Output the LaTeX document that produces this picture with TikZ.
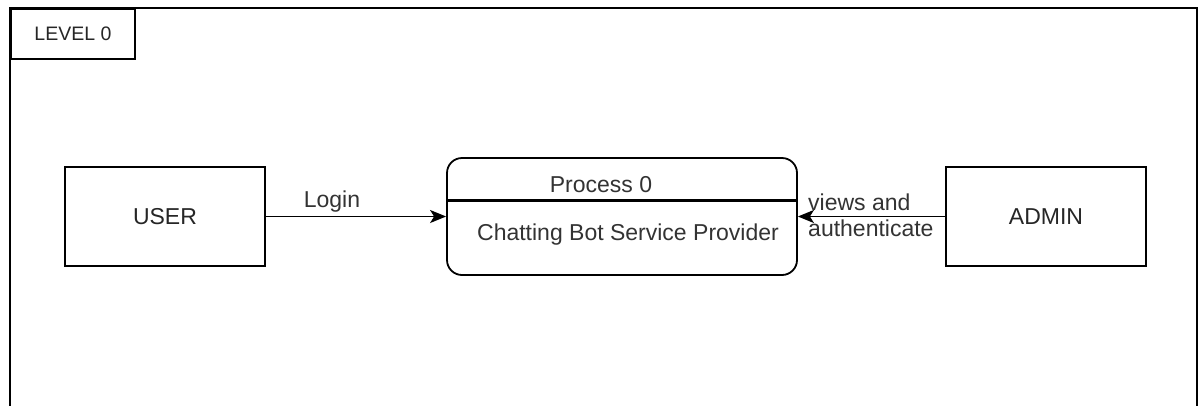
\documentclass[tikz,border=0pt]{standalone}
\usepackage{fontspec}
\setmainfont{Liberation Sans}
\usetikzlibrary{arrows.meta}
\tikzset{
  box/.style={draw, line width=1.8pt, minimum width=200pt, minimum height=99pt, inner sep=0pt,
    font=\fontsize{23}{27}\selectfont, text=black!85},
  lbl/.style={font=\fontsize{23}{27}\selectfont, text=black!80, inner sep=0pt},
  flow/.style={line width=1.8pt, -{Stealth[length=16pt,width=13pt,inset=4pt]}},
}
\begin{document}
\begin{tikzpicture}[x=1pt,y=-1pt]
  \useasboundingbox (0,0) rectangle (1198,405);
  \fill[white] (0,0) rectangle (1198,405);
  \clip (0,0) rectangle (1198,405);
  % outer frame of the level
  \draw[line width=2.6pt] (10,420) -- (10,8) -- (1197,8) -- (1197,420);
  \node[draw, line width=1.8pt, anchor=north west, minimum width=124pt, minimum height=50pt,
        inner sep=0pt, font=\fontsize{19.5}{23}\selectfont, text=black!85]
        (level) at (10,8) {LEVEL 0};
  % external entities
  \node[box] (user) at (165,216.5) {USER};
  \node[box] (admin) at (1046,216.5) {ADMIN};
  % process
  \node[draw, line width=1.8pt, rounded corners=15pt, minimum width=350pt, minimum height=117pt,
        inner sep=0pt] (proc) at (622,216.5) {};
  \draw[line width=2.4pt] (proc.west |- 0,200.5) coordinate (dl) -- (proc.east |- 0,200.5) coordinate (dr);
  \node[lbl] (ptitle) at (601,185) {Process 0};
  \node[lbl] (pname) at (628,235) {Chatting Bot Service Provider};
  % data flows
  \draw[flow] (user.east) -- (proc.west);
  \draw[flow] (admin.west) -- (proc.east);
  \node[lbl] (login) at (332,202) {Login};
  \node[lbl, anchor=west] (views) at (808,202) {views and};
  \node[lbl, anchor=west] (auth) at (808,228) {authenticate};
\end{tikzpicture}
\end{document}
